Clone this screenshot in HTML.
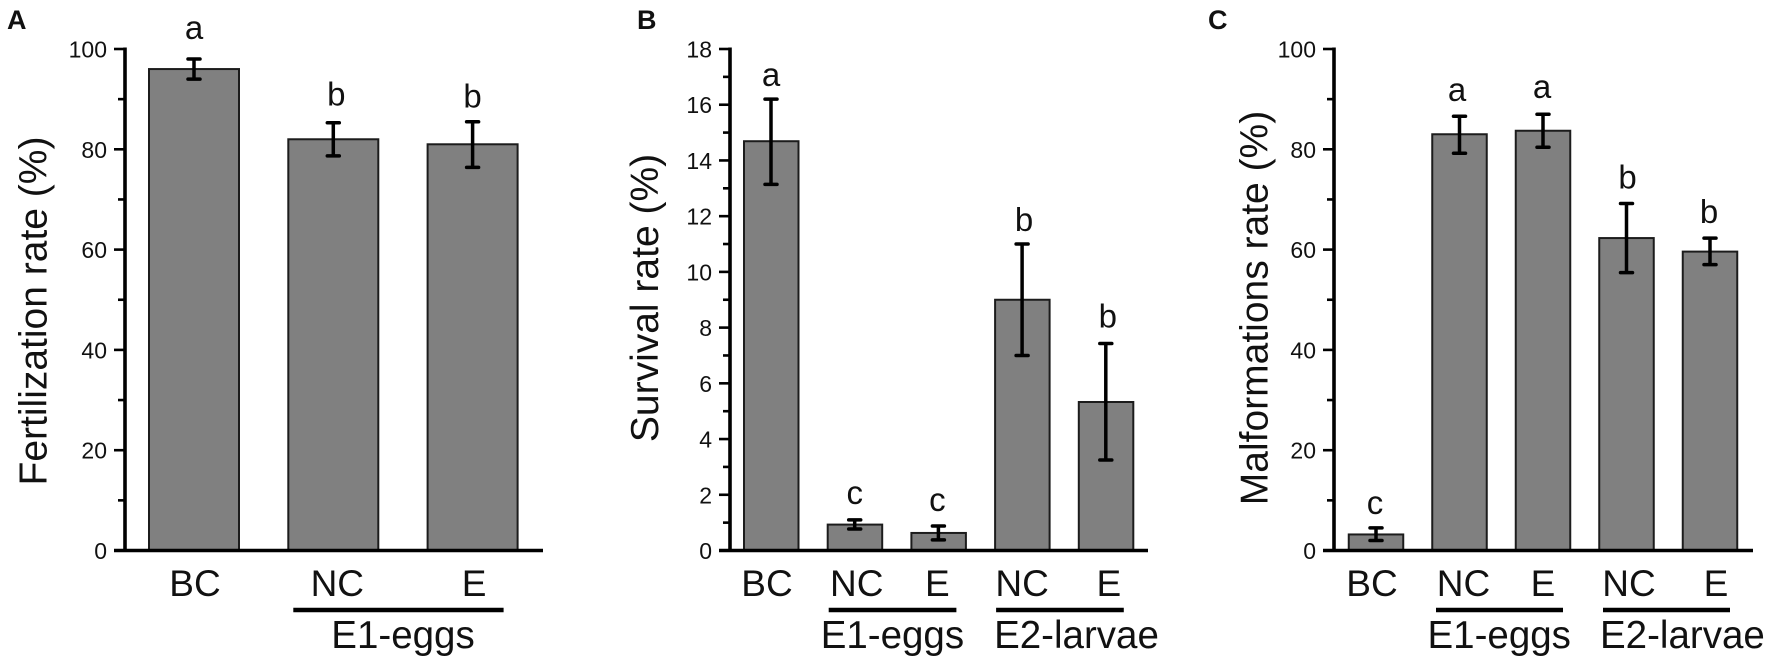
<!DOCTYPE html>
<html lang="en">
<head>
<meta charset="utf-8">
<title>Fertilization, survival and malformation rates</title>
<style>
html,body{margin:0;padding:0;background:#fff;width:1772px;height:663px;overflow:hidden}
svg{display:block}
text{font-family:"Liberation Sans",sans-serif;fill:#111}
</style>
</head>
<body>
<svg id="figure" xmlns="http://www.w3.org/2000/svg" width="1772" height="663" viewBox="0 0 1772 663"></svg>
<script>
// Panel A data
const aTitle = "Fertilization rate (%)";
const aCategories = ["BC", "NC", "E"];
const aValues = [96, 82, 81];
const aErrLow = [94, 78.7, 76.4];
const aErrHigh = [98, 85.3, 85.5];
const aLetters = ["a", "b", "b"];
const aMax = 100;
const aMajorStep = 20;
const aGroupNames = ["E1-eggs"];
const aGroupFirst = [1];
const aGroupLast = [2];

// Panel B data
const bTitle = "Survival rate (%)";
const bCategories = ["BC", "NC", "E", "NC", "E"];
const bValues = [14.69, 0.93, 0.63, 9.0, 5.33];
const bErrLow = [13.14, 0.77, 0.38, 7.0, 3.25];
const bErrHigh = [16.2, 1.1, 0.88, 11.0, 7.43];
const bLetters = ["a", "c", "c", "b", "b"];
const bMax = 18;
const bMajorStep = 2;
const bGroupNames = ["E1-eggs", "E2-larvae"];
const bGroupFirst = [1, 3];
const bGroupLast = [2, 4];

// Panel C data
const cTitle = "Malformations rate (%)";
const cCategories = ["BC", "NC", "E", "NC", "E"];
const cValues = [3.2, 83, 83.7, 62.3, 59.6];
const cErrLow = [2.0, 79.2, 80.4, 55.4, 57];
const cErrHigh = [4.5, 86.6, 87, 69.2, 62.3];
const cLetters = ["c", "a", "a", "b", "b"];
const cMax = 100;
const cMajorStep = 20;
const cGroupNames = ["E1-eggs", "E2-larvae"];
const cGroupFirst = [1, 3];
const cGroupLast = [2, 4];

const NS = "http://www.w3.org/2000/svg";
const root = document.getElementById("figure");
const Y0 = 550.5, YTOP = 49;

function el(tag, attrs, parent, txt) {
  const n = document.createElementNS(NS, tag);
  for (const k in attrs) n.setAttribute(k, attrs[k]);
  if (txt !== undefined) n.textContent = txt;
  (parent || root).appendChild(n);
  return n;
}
function line(parent, x1, y1, x2, y2, w) {
  return el("line", {x1: x1, y1: y1, x2: x2, y2: y2, stroke: "#000", "stroke-width": w}, parent);
}

function drawPanel(id, d, lay) {
  const g = el("g", {}, root);
  
  
  const yScale = v => Y0 - (v / d.max) * (Y0 - YTOP);
  const xCenter = i => lay.x0 + lay.pitch * i;

  const tag = el("text", {x: lay.tagX, y: 29, "font-size": 27, "font-weight": "bold", fill: "#000"}, g, id.toUpperCase());
  
  

  const title = el("text", {
    transform: "translate(" + lay.titleX + "," + lay.titleY + ") rotate(-90)",
    "text-anchor": "middle", "font-size": 39
  }, g, d.title);
  
  

  // bars first, axes drawn on top
  d.values.forEach((v, i) => {
    const top = yScale(v);
    const bar = el("rect", {
      x: xCenter(i) + lay.barOff, y: top, width: lay.barW, height: Y0 - top,
      fill: "#808080", stroke: "#1c1c1c", "stroke-width": 2
    }, g);
    
    
  });

  d.values.forEach((v, i) => {
    const cx = xCenter(i);
    const hi = yScale(d.errHigh[i]), lo = yScale(d.errLow[i]);
    const eg = el("g", {}, g);
    
    
    line(eg, cx, hi, cx, lo, 3.5);
    el("line", {x1: cx - 6, y1: hi, x2: cx + 6, y2: hi, stroke: "#000", "stroke-width": 3.5, "stroke-linecap": "round"}, eg);
    el("line", {x1: cx - 6, y1: lo, x2: cx + 6, y2: lo, stroke: "#000", "stroke-width": 3.5, "stroke-linecap": "round"}, eg);

    const letter = el("text", {x: cx + lay.letterNudge[i], y: hi - lay.letterGap[i], "text-anchor": "middle", "font-size": 33}, g, d.letters[i]);
    
    

    const cat = el("text", {x: cx + lay.catNudge[i], y: 596, "text-anchor": "middle", "font-size": 37}, g, d.categories[i]);
    
    
  });

  // axes
  const axes = el("g", {}, g);
  
  
  line(axes, lay.axisX, YTOP - 1.5, lay.axisX, Y0 + 1.5, 3.6);
  line(axes, lay.axisX - 11, Y0, lay.axisEnd, Y0, 3.4);
  for (let t = 0; t <= d.max + 1e-6; t += d.major / 2) {
    const isMajor = Math.abs(t / d.major - Math.round(t / d.major)) < 1e-6;
    const y = yScale(t);
    if (t > 0) line(axes, lay.axisX - (isMajor ? 11 : 7), y, lay.axisX, y, 2.6);
    if (isMajor) {
      const lbl = el("text", {x: lay.axisX - 18, y: y + 8.5, "text-anchor": "end", "font-size": 23}, g, String(t));
      
      
    }
  }

  // group underlines and labels
  d.groupNames.forEach((name, k) => {
    const x1 = xCenter(d.groupFirst[k]) + lay.ulLeft;
    const x2 = xCenter(d.groupLast[k]) + lay.ulRight;
    const ul = line(g, x1, 610, x2, 610, 4.4);
    
    
    const gt = el("text", {x: x1 + lay.groupTextOff[k], y: 648, "font-size": 38.5}, g, name);
    
    
  });
}

drawPanel("a", {
  title: aTitle, categories: aCategories, values: aValues, errLow: aErrLow, errHigh: aErrHigh,
  letters: aLetters, max: aMax, major: aMajorStep,
  groupNames: aGroupNames, groupFirst: aGroupFirst, groupLast: aGroupLast
}, {
  x0: 194, pitch: 139.3, barW: 90, barOff: -45, axisX: 125, axisEnd: 543, tagX: 7,
  titleX: 46.5, titleY: 311, ulLeft: -40, ulRight: 31,
  groupTextOff: [38], letterNudge: [0, 3, 0], letterGap: [20, 17, 14], catNudge: [1, 4, 1.5]
});

drawPanel("b", {
  title: bTitle, categories: bCategories, values: bValues, errLow: bErrLow, errHigh: bErrHigh,
  letters: bLetters, max: bMax, major: bMajorStep,
  groupNames: bGroupNames, groupFirst: bGroupFirst, groupLast: bGroupLast
}, {
  x0: 771, pitch: 83.7, barW: 54.5, barOff: -27, axisX: 730, axisEnd: 1148, tagX: 637,
  titleX: 658, titleY: 298, ulLeft: -26, ulRight: 18,
  groupTextOff: [-8, -2], letterNudge: [0, 0, -1, 2, 2], letterGap: [13, 16, 15, 13, 16], catNudge: [-4, 2, -1, 0, 3]
});

drawPanel("c", {
  title: cTitle, categories: cCategories, values: cValues, errLow: cErrLow, errHigh: cErrHigh,
  letters: cLetters, max: cMax, major: cMajorStep,
  groupNames: cGroupNames, groupFirst: cGroupFirst, groupLast: cGroupLast
}, {
  x0: 1376, pitch: 83.5, barW: 54.5, barOff: -27.25, axisX: 1334, axisEnd: 1753, tagX: 1208,
  titleX: 1267.5, titleY: 308, ulLeft: -23.5, ulRight: 20,
  groupTextOff: [-8.5, -3], letterNudge: [-1, -2.5, -1, 1, -1], letterGap: [14, 15, 16, 15, 15], catNudge: [-4, 4, 0, 2.5, 6]
});
</script>
</body>
</html>
